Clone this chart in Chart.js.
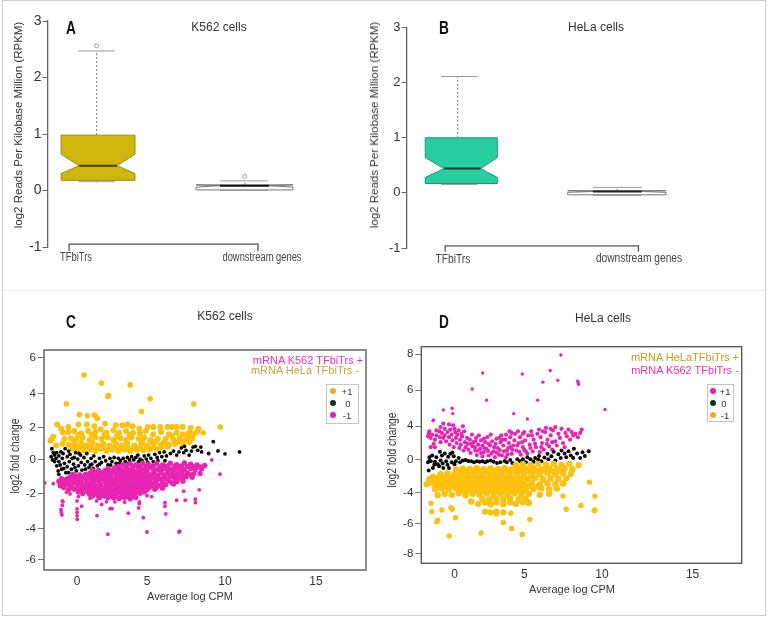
<!DOCTYPE html>
<html>
<head>
<meta charset="utf-8">
<title>TFbiTrs panels</title>
<script src="https://cdn.jsdelivr.net/npm/chart.js@4"></script>
<style>
  html, body { margin: 0; padding: 0; background: #fff; }
  body { position: relative; width: 768px; height: 617px; overflow: hidden; font-family: "Liberation Sans", Arial, sans-serif; color: #333; }
  canvas { position: absolute; }
  #frame { position: absolute; left: 2px; top: 0; width: 762px; height: 614px; border: 1.5px solid #cfcfcf; }
  #divider { position: absolute; left: 3px; top: 290px; width: 761px; height: 1px; background: #ececec; }
  .t { position: absolute; white-space: nowrap; transform: translate(-50%, -50%); }
  .title { font-size: 12px; color: #333; }
  .letter { font-weight: bold; font-size: 19px; color: #111; transform: translate(-50%, -50%) scaleX(.72); }
  .ylab { font-size: 11.5px; transform: translate(-50%, -50%) rotate(-90deg); }
  .ylab2 { font-size: 12px; transform: translate(-50%, -50%) rotate(-90deg) scaleX(.85); }
  .xlab { font-size: 11px; }
  .tick { font-size: 12px; color: #444; }
  .note { font-size: 11px; }
  .legend { position: absolute; border: 1.5px solid #c4c4c4; background: #fff; box-sizing: border-box; }
  .dot { position: absolute; border-radius: 50%; width: 6px; height: 6px; transform: translate(-50%, -50%); }
  .leg { position: absolute; font-size: 9.5px; color: #333; transform: translate(-50%, -50%); }
</style>
</head>
<body>
<div id="frame"></div>
<div id="divider"></div>

<canvas id="chartA" width="384" height="290" style="left:0;top:0"></canvas>
<canvas id="chartB" width="384" height="290" style="left:384px;top:0"></canvas>
<canvas id="chartC" width="384" height="317" style="left:0;top:300px"></canvas>
<canvas id="chartD" width="384" height="317" style="left:384px;top:300px"></canvas>

<div class="t letter" style="left:71px;top:28px">A</div>
<div class="t letter" style="left:444px;top:28px">B</div>
<div class="t letter" style="left:71px;top:322px">C</div>
<div class="t letter" style="left:444px;top:322px">D</div>

<div class="t title" style="left:219px;top:27px">K562 cells</div>
<div class="t title" style="left:596px;top:27px">HeLa cells</div>
<div class="t title" style="left:225px;top:316px">K562 cells</div>
<div class="t title" style="left:603px;top:318px">HeLa cells</div>

<div class="t ylab" style="left:18px;top:125px">log2 Reads Per Kilobase Million (RPKM)</div>
<div class="t ylab" style="left:374px;top:125px">log2 Reads Per Kilobase Million (RPKM)</div>
<div class="t ylab2" style="left:15px;top:456px">log2 fold change</div>
<div class="t ylab2" style="left:392px;top:450px">log2 fold change</div>
<div class="t xlab" style="left:190px;top:596px">Average log CPM</div>
<div class="t xlab" style="left:572px;top:589px">Average log CPM</div>

<div class="t tick" style="left:76px;top:257px;transform:translate(-50%,-50%) scaleX(.78)">TFbiTrs</div>
<div class="t tick" style="left:262px;top:257px;transform:translate(-50%,-50%) scaleX(.78)">downstream genes</div>
<div class="t tick" style="left:453px;top:259px;transform:translate(-50%,-50%) scaleX(.85)">TFbiTrs</div>
<div class="t tick" style="left:639px;top:258px;transform:translate(-50%,-50%) scaleX(.85)">downstream genes</div>

<div class="t note" style="left:308px;top:360px;color:#ee2fb8">mRNA K562 TFbiTrs +</div>
<div class="t note" style="left:305px;top:370px;color:#c9a03e">mRNA HeLa TFbiTrs -</div>
<div class="t note" style="left:685px;top:357px;color:#bfa01f">mRNA HeLaTFbiTrs +</div>
<div class="t note" style="left:685px;top:370px;color:#ee2fb8">mRNA K562 TFbiTrs -</div>

<div class="legend" style="left:326px;top:384px;width:33px;height:40px"></div>
<div class="dot" style="left:333px;top:391px;background:#e6ae20"></div>
<div class="dot" style="left:333px;top:403px;background:#12331a"></div>
<div class="dot" style="left:333px;top:415px;background:#e81fae"></div>
<div class="leg" style="left:347px;top:391px">+1</div>
<div class="leg" style="left:348px;top:403px">0</div>
<div class="leg" style="left:347px;top:415px">-1</div>

<div class="legend" style="left:707px;top:384px;width:27px;height:38px"></div>
<div class="dot" style="left:713px;top:391px;background:#e81fae"></div>
<div class="dot" style="left:713px;top:403px;background:#12331a"></div>
<div class="dot" style="left:713px;top:415px;background:#e6ae20"></div>
<div class="leg" style="left:725px;top:391px">+1</div>
<div class="leg" style="left:724px;top:403px">0</div>
<div class="leg" style="left:725px;top:415px">-1</div>

<script>
// Box plot values (first box TFbiTrs, second downstream genes)
const aQ1 = [0.18, 0.01];
const aNotchLo = [0.30, 0.06];
const aMedian = [0.44, 0.085];
const aNotchHi = [0.64, 0.10];
const aQ3 = [0.98, 0.10];
const aWhiskLo = [0.155, 0.005];
const aWhiskHi = [2.47, 0.17];
const aOutX = [1.146, 1.93];
const aOutY = [2.56, 0.25];

const bQ1 = [0.17, -0.035];
const bNotchLo = [0.28, 0.01];
const bMedian = [0.44, 0.025];
const bNotchHi = [0.64, 0.04];
const bQ3 = [1.0, 0.04];
const bWhiskLo = [0.15, -0.045];
const bWhiskHi = [2.11, 0.10];

const boxTicksY = [-1, 0, 1, 2, 3];
const xTicksCpm = [0, 5, 10, 15];
const cTicksY = [-6, -4, -2, 0, 2, 4, 6];
const dTicksY = [-8, -6, -4, 0, 4, 6, 8];

// Panel C: up, unchanged, down
const cUp = [[.5,5.05],[1.74,4.6],[3.8,4.5],[2.2,3.85],[2.25,3.9],[5.2,3.72],[-.76,3.42],[8,3.4],[4.6,2.96],[.17,2.78],[.74,2.72],[1.24,2.76],[1.35,2.65],[1.45,2.55],[2,2.25],[9.7,2.05],[8.6,1.7],
[-1.43,2.2],[-1.14,1.95],[-.62,2.05],[.1,2.2],[.7,2.2],[1.24,2.1],[2.76,2.15],[3.24,2.15],[3.6,2.2],[3.98,2.1],[4.45,1.95],[5.05,2.05],[5.4,2.05],[5.85,2.05],[6.3,2.05],[6.6,2.05],[6.9,2.05],[7.3,2.05],[7.8,2],[8.3,1.95],
[-1.8,1.3],[-1.7,1.45],[-1.9,1.2],[-1.5,.9],[-1.05,1],[-1,1.7],[-.6,1.75],[-.2,1.8],[.3,1.65],[.8,1.8],[1.3,1.75],[1.7,1.9],[2.1,1.7],[2.6,1.85],[3,1.7],[3.5,1.8],[4,1.7],[4.5,1.65],[4.9,1.8],[5.4,1.6],[5.9,1.75],[6.4,1.6],[6.9,1.7],[7.3,1.6],[7.7,1.7],[8,1.6],[8.2,1.75],
[-.9,1.3],[-.45,1.35],[-.05,1.3],[.4,1.4],[.9,1.25],[1.3,1.4],[1.75,1.3],[2.2,1.4],[2.6,1.25],[3.1,1.35],[3.5,1.25],[3.9,1.4],[4.4,1.3],[4.8,1.4],[5.2,1.25],[5.7,1.3],[6.2,1.3],[6.7,1.25],[7.1,1.35],[7.5,1.25],[7.9,1.35],
[-.6,.95],[-.15,.95],[.3,1.05],[.7,.9],[1.1,1.05],[1.5,.9],[1.9,1],[2.35,.9],[2.8,1],[3.2,.9],[3.6,1],[4.1,.9],[4.6,1],[5,.9],[5.4,1],[5.9,.95],[6.4,.95],[6.8,1],[7.3,1.05],
[-.3,.7],[0,.65],[.45,.6],[.9,.65],[1.3,.55],[1.7,.7],[2.1,.55],[2.5,.65],[2.95,.55],[3.4,.65],[3.8,.55],[4.3,.65],[4.75,.6],[5.2,.65],[5.6,.7],[6.3,.8],
[-.2,1.1],[.15,.8],[.55,.85],[1,.8],[1.4,.7],[1.85,.75],[2.3,.72],[2.7,.78],[3.15,.72],[3.6,.76],[4,.72],[4.5,.78],[5,.75],[5.45,.8],[5.9,.78],[.1,1.55],[1.05,1.55],[1.95,1.55],[2.85,1.5],[3.75,1.55],[4.65,1.1],[5.55,1.15],[6.6,1.5],[7.6,1.5],[6.1,1.1],[7,1.12],[7.7,1.1]];

const cMid = [[9.25,1.14],[9.55,.56],[10,.38],[10.8,.5],[8.95,.4],[8.5,.5],
[-1.8,.7],[-1.7,.45],[-1.85,.2],[-1.75,0],[-1.6,.3],[-1.5,.1],[-1.45,.45],[-1.3,.25],[-1.3,-.1],[-1.2,-.3],[-1.35,-.65],[-1.3,-.85],[-1.1,-.55],[-1.05,.1],[-1,.4],[-.9,-.2],[-.85,.7],[-.8,-.75],[-.7,.2],[-.7,-.4],[-.55,-.1],[-.5,.35],[-.4,-.55],[-.35,.1],[-.25,-.25],[-.1,.45],[-.05,-.65],[.05,.05],[.1,-.35],[.25,.3],[.3,-.15],[.35,-.6],[.5,.15],[.55,-.3],[.7,.4],[.75,-.1],[.85,-.45],[1,.1],[1.05,-.25],[1.2,.25],[1.3,-.1],[1.45,-.35],
[1.6,.1],[1.75,-.15],[1.9,.2],[2.05,-.05],[2.2,-.3],[2.35,.1],[2.5,-.1],[2.65,.15],[2.8,-.2],[2.95,.1],[3.1,-.05],[3.3,.1],[3.45,-.1],[3.6,.15],[3.75,0],[3.9,.2],[4.05,0],[4.2,.15],[4.35,.3],[4.5,.05],[4.65,-.05],[4.8,.25],[4.95,.05],[5.1,.3],[5.25,.1],[5.4,-.1],[5.5,.35],[5.65,.15],[5.8,.45],[5.95,.2],[6.1,.5],[6.25,.25],[6.15,-.05],
[6.5,.4],[6.7,.55],[6.9,.3],[7.05,.5],[7.2,.75],[7.35,.45],[7.5,.6],[7.7,.3],[7.85,.55],[7.95,.8],[8.1,.85],[8.25,.6],[8.45,.8],[7.4,.85],
[-1.6,-.1],[-1.45,-.35],[-1.15,.5],[-.95,-.5],[-.6,.55],[-.6,-.75],[-.2,.15],[-.15,-.45],[.15,.4],[.6,-.55],[.95,-.3],[1.15,-.5],[1.6,-.25],[2.4,-.3],[3,-.2],[3.7,-.2],[4.4,-.1],[5.05,-.15],[5.7,-.05]];

const cDown = [[-2.3,-1.35],[-1.7,-1.4],[1.43,-3.24],[2.2,-4.34],[5,-4.2],[7.05,-4.2],[7.1,-4.15],[9.68,-.84],[9.15,0],[4.74,-3.36],[3.67,-3.1],[4.4,-2.8],[6.2,-3.14],[6.15,-2.7],[6.15,-2.5],[6.9,-2.36],[7.45,-2.36],[8.1,-2.5],[8.1,-2.3],[8.35,-1.76],[7.35,-1.84],[2.36,-2.84],[2.5,-2.84],
[-1.05,-2.4],[-1,-2.45],[-1.05,-2.65],[-1.15,-2.9],[-1.12,-3.05],[-1.08,-3.2],[0,-2.85],[0,-3.05],[0,-3.25],[.02,-3.45],[.33,-2.7],[0,-2.4],[.1,-2.15],[-.75,-1.9],[-.5,-2],[.93,-2.25],[1.4,-2.4],[1.76,-2.6],[2.1,-2.45],[2.7,-2.45],[3.4,-2.47],[4.45,-2.45],[4.45,-2.55],[5.3,-2.15],[5,-2.1],
[3.3,-.28],[3.8,-.22],[4.2,-.3],[4.7,-.2],[5.1,-.27],[5.6,-.2],[6,-.3],[6.5,-.2],[6.9,-.28],[7.4,-.18],[7.8,-.25],[8.2,-.3],[8.7,-.33],
[2.2,-.52],[2.7,-.46],[3.1,-.55],[3.5,-.48],[3.9,-.54],[4.4,-.47],[4.8,-.52],[5.2,-.46],[5.7,-.55],[6.1,-.5],[6.5,-.54],[7,-.48],[7.4,-.56],[7.8,-.5],[8.1,-.56],[8.5,-.52],
[.9,-.78],[1.3,-.72],[1.8,-.76],[2.2,-.8],[2.6,-.72],[3,-.78],[3.4,-.73],[3.8,-.79],[4.2,-.74],[4.6,-.78],[5,-.72],[5.4,-.8],[5.9,-.75],[6.3,-.79],[6.7,-.74],[7.1,-.8],[7.6,-.76],[8,-.82],[8.4,-.8],
[-.5,-1.02],[-.1,-.96],[.4,-1.03],[.8,-.97],[1.2,-1.02],[1.6,-.98],[2,-1.04],[2.4,-.96],[2.9,-1.02],[3.3,-.98],[3.7,-1.03],[4.1,-.97],[4.5,-1.02],[4.9,-.98],[5.3,-1.04],[5.7,-.97],[6.1,-1.03],[6.6,-.98],[7,-1.04],[7.5,-1],[7.9,-1.02],
[-1.3,-1.26],[-.9,-1.2],[-.5,-1.27],[-.1,-1.22],[.3,-1.28],[.7,-1.21],[1.1,-1.27],[1.5,-1.23],[2,-1.28],[2.4,-1.21],[2.8,-1.26],[3.2,-1.22],[3.6,-1.28],[4,-1.21],[4.4,-1.26],[4.8,-1.22],[5.2,-1.28],[5.6,-1.22],[6,-1.27],[6.4,-1.23],[6.9,-1.28],[7.3,-1.25],
[-1.2,-1.52],[-.8,-1.46],[-.4,-1.53],[.1,-1.47],[.5,-1.52],[.9,-1.46],[1.3,-1.53],[1.7,-1.47],[2.1,-1.52],[2.5,-1.46],[2.9,-1.53],[3.3,-1.47],[3.7,-1.52],[4.1,-1.46],[4.5,-1.53],[4.9,-1.48],[5.3,-1.52],[5.8,-1.5],[6.2,-1.46],[6.7,-1.42],
[-.6,-1.76],[-.2,-1.72],[.2,-1.78],[.6,-1.73],[1,-1.77],[1.4,-1.71],[1.8,-1.78],[2.2,-1.73],[2.6,-1.77],[3,-1.72],[3.4,-1.78],[3.8,-1.73],[4.2,-1.76],[4.6,-1.72],[5,-1.76],[5.5,-1.72],[6,-1.66],
[.4,-1.98],[.9,-2.02],[1.3,-1.97],[1.7,-2.03],[2.1,-1.97],[2.5,-2.02],[2.9,-1.96],[3.3,-2.03],[3.7,-1.98],[4.1,-2.02],[4.5,-1.96],
[2.6,-2.22],[3,-2.27],[3.4,-2.22],[3.8,-2.28],[2.2,-2.2],[1.6,-2.2],[4.2,-2.2],
[2.95,-.38],[3.55,-.36],[4,-.4],[4.5,-.35],[4.95,-.38],[5.4,-.36],[5.85,-.4],[6.3,-.36],[6.75,-.4],[7.2,-.36],[7.6,-.38],[8,-.4],[8.4,-.42],
[1.1,-.62],[1.55,-.62],[2,-.64],[2.45,-.6],[2.85,-.62],[3.25,-.64],[3.65,-.62],[4.05,-.64],[4.5,-.62],[4.95,-.64],[5.45,-.63],[5.9,-.64],[6.35,-.65],[6.8,-.64],[7.2,-.66],
[-.3,-.86],[.2,-.88],[.6,-.86],[1.05,-.88],[1.5,-.86],[2,-.9],[2.4,-.88],[2.8,-.88],[3.2,-.87],[3.6,-.89],[4,-.88],[4.4,-.9],[4.8,-.87],[5.2,-.9],[5.6,-.88],[6.1,-.88],[6.5,-.88],[6.9,-.9],[7.35,-.88],[7.8,-.88],
[-1.1,-1.1],[-.7,-1.1],[-.3,-1.12],[.1,-1.1],[.55,-1.13],[1,-1.12],[1.4,-1.1],[1.8,-1.12],[2.2,-1.1],[2.6,-1.12],[3.05,-1.1],[3.5,-1.13],[3.9,-1.1],[4.3,-1.13],[4.7,-1.1],[5.1,-1.13],[5.5,-1.1],[5.9,-1.13],[6.3,-1.12],[6.8,-1.12],[7.25,-1.12],
[-1,-1.36],[-.6,-1.37],[-.2,-1.35],[.2,-1.37],[.7,-1.36],[1.2,-1.37],[1.6,-1.35],[2.2,-1.37],[2.65,-1.35],[3.1,-1.37],[3.5,-1.36],[3.95,-1.37],[4.3,-1.38],[4.7,-1.37],[5.1,-1.38],[5.5,-1.37],[6,-1.38],[6.6,-1.35],
[-.95,-1.62],[-.5,-1.64],[0,-1.62],[.4,-1.64],[.75,-1.62],[1.15,-1.64],[1.55,-1.62],[2,-1.64],[2.35,-1.62],[2.75,-1.64],[3.15,-1.62],[3.55,-1.64],[3.95,-1.62],[4.3,-1.64],[4.75,-1.62],[5.15,-1.62],[5.65,-1.6],
[.1,-1.88],[.45,-1.87],[.8,-1.88],[1.15,-1.87],[1.55,-1.9],[1.95,-1.88],[2.35,-1.88],[2.75,-1.87],[3.15,-1.9],[3.55,-1.88],[3.95,-1.87],[4.4,-1.88],[4.8,-1.88],
[1.1,-2.12],[1.5,-2.1],[1.95,-2.12],[2.4,-2.12],[2.8,-2.12],[3.2,-2.14],[3.6,-2.12],[4,-2.13]];

// Panel D: up, unchanged, down
const dUp = [[7.36,7.96],[2.02,6.96],[4.86,6.9],[6.67,7.1],[6.2,6.45],[7.16,6.55],[8.44,6.5],[8.5,6.33],[8.48,6.4],[1.27,6.07],[2.3,5.45],[5.86,5.45],[10.17,4.93],[-.8,4.9],[-.17,5],[-.12,4.7],[4.25,4.7],[5.2,4.4],[-1.5,4.35],[-1.55,4.3],
[-1.9,2.8],[-1.85,3.1],[-1.8,3.4],[-1.7,2.6],[-1.7,1.5],[-1.6,3],[-1.5,1.9],[-1.4,2.4],[-1.4,1.5],[-1.3,2.9],[-1.3,3.5],[-1.1,3.4],[-1.05,2.7],[-1,3.9],[-1,2.1],[-.9,3.2],[-.8,2.6],[-.8,4.15],[-.7,3.7],[-.7,2.9],[-.6,2.2],[-.5,3.3],[-.4,4.1],[-.4,2.7],[-.35,1.8],[-.3,3.6],[-.2,3],[-.15,2.3],[-.1,4.05],[-.05,1.5],[0,3.7],[.05,3.3],[.1,2.6],[.15,2],[.2,3],[.3,3.5],[.35,1.4],[.4,2.4],[.45,1.8],[.5,3.1],[.55,2.8],[.6,4],[.65,1.1],[.7,3.4],[.75,2.1],[.8,1.5],[.9,2.6],[.95,1.9],[1,1.2],
[1.1,2.4],[1.15,.8],[1.25,3],[1.3,1.6],[1.35,2.1],[1.5,1.1],[1.55,2.6],[1.6,.55],[1.7,1.8],[1.75,2.9],[1.85,1.3],[1.9,2.3],[2,.4],[2,1.7],[2.1,.9],[2.2,2.1],[2.3,1.3],[2.35,2.7],[2.45,.5],[2.55,1.7],[2.6,3],[2.7,2.2],[2.8,1],[2.9,.3],[2.95,1.9],[3,2.5],[3.1,1.4],[3.2,.6],[3.3,2.1],[3.35,2.9],[3.5,1.7],[3.55,1],[3.65,2.4],[3.7,.3],[3.85,1.4],[3.9,2],[3.95,3.4],[4,2.7],[4.1,.7],[4.2,1.7],[4.3,2.3],[4.35,3.1],[4.45,1.1],[4.55,3.4],[4.6,2],[4.7,2.7],[4.75,.6],[4.9,1.5],[5,3.3],[5.05,2.3],[5.1,1],[5.25,2.9],[5.35,1.8],[5.45,3.4],[5.55,1],[5.6,2.4],[5.75,1.5],[5.85,3.1],[5.95,3.6],[6,.9],[6.05,2.7],[6.15,2],[6.25,1.2],[6.35,3.3],[6.4,3.8],[6.5,2.4],[6.6,1.6],[6.7,2.9],[6.8,1.2],[6.85,3.5],[7,3.9],[7,2.2],[7.1,1.7],[7.2,3.1],[7.3,2.6],[7.4,3.7],[7.5,2],[7.6,1.5],[7.65,3.2],[7.75,2.8],[7.85,3.6],[7.95,2.4],[8.05,3.3],[8.15,2.9],[8.3,3.1],[8.45,2.7],[8.6,3.2],[8.7,3.6],
[1.2,1.9],[1.45,1.5],[1.65,1.1],[1.9,.8],[2.15,1.4],[2.4,1.05],[2.45,1.9],[2.65,.75],[2.85,1.5],[3,.85],[3.25,1.15],[3.4,.5],[3.45,2.4],[3.75,1.1],[3.8,.65],[4,1.5],[4.15,1.2],[4.5,1.7],[4.65,.95],[4.85,2.1],[5,1.2],[5.2,.75],[5.4,1.4],[5.7,1.9],[6.1,1.5],[6.45,1.9],[6.8,2.1],[1.5,2.2],[2.1,2.5],[3.2,2.6],[3.7,3],[4.1,3.2],[4.9,3.1],[5.5,2.9],[6.2,3.4],[6.7,3.7]];

const dMid = [[-1.9,-.3],[-1.85,-1.3],[-1.8,-.15],[-1.8,.3],[-1.7,-.2],[-1.6,.5],[-1.55,-1],[-1.45,-.6],[-1.4,-.25],[-1.3,.3],[-1.2,-.55],[-1.1,-.8],[-1.05,.95],[-1,-.1],[-.9,.5],[-.85,-.45],[-.8,-1],[-.7,.75],[-.6,-.2],[-.5,-.6],[-.45,.35],[-.4,-1],[-.3,.7],[-.2,-.3],[-.15,.85],[-.05,.4],[0,-.55],[.1,-.2],[.3,.2],[.4,-.3],[.6,-.1],[.8,-.05],[1,-.15],[1.2,-.2],[1.4,-.3],[1.6,-.2],[1.8,-.25],[2,-.2],[2.2,-.3],[2.35,-.2],[2.6,-.1],[2.8,-.25],[3.05,-.4],[3.3,-.3],[3.6,-.15],[3.75,-.3],[4,-.05],[4.15,-.4],[4.5,.05],[4.7,-.2],[4.9,.05],[5.1,-.3],[5.2,.3],[5.4,.05],[5.6,-.25],[5.7,.2],[5.9,0],[5.95,.45],[6.1,-.2],[6.3,.25],[6.5,.7],[6.55,.05],[6.75,.4],[6.9,.95],[7,-.1],[7.2,.65],[7.35,.2],[7.4,1.1],[7.6,.75],[7.7,.3],[7.85,1],[8,.5],[8.15,.2],[8.2,1.3],[8.4,.75],[8.6,.2],[8.75,.9],[8.9,.45],[9.15,1]];

const dDown = [[-1.68,-4.67],[-1.63,-5.2],[-.9,-5.1],[-.26,-4.95],[-.15,-5.05],[-1.2,-5.75],[-1.27,-5.85],[.07,-5.6],[-.38,-6.8],[1.9,-6.6],[3,-5.35],[3.5,-5.9],[4.04,-5.3],[4.1,-6.3],[4.85,-6.7],[5.36,-5.7],[7.7,-5.05],[8.65,-4.8],[9.5,-5.15],[9.55,-5.1],[9.55,-4.2],[9.2,-2.7],[7.5,-4.2],
[4.4,-.65],[4.9,-.55],[5.4,-.62],[5.9,-.5],[6.4,-.6],[6.9,-.5],[7.4,-.62],[7.9,-.5],[8.5,-.65],
[.1,-1.15],[.6,-1.05],[1.1,-1.12],[1.6,-1.02],[2.1,-1.15],[2.6,-1.05],[3.1,-1.12],[3.6,-1.02],[4.1,-1.15],[4.6,-1.05],[5.1,-1.12],[5.6,-1.05],[6.1,-1.15],[6.6,-1.05],[7.1,-1.12],[7.6,-1.05],[8.1,-1.15],
[-1,-1.75],[-.5,-1.65],[0,-1.72],[.5,-1.62],[1,-1.75],[1.5,-1.65],[2,-1.72],[2.5,-1.62],[3,-1.75],[3.5,-1.65],[4,-1.72],[4.5,-1.62],[5,-1.75],[5.5,-1.65],[6,-1.72],[6.5,-1.62],[7,-1.75],[7.5,-1.65],[8,-1.72],
[-1.8,-2.35],[-1.3,-2.25],[-.8,-2.32],[-.3,-2.22],[.2,-2.35],[.7,-2.25],[1.2,-2.32],[1.7,-2.22],[2.2,-2.35],[2.7,-2.25],[3.2,-2.32],[3.7,-2.22],[4.2,-2.35],[4.7,-2.25],[5.2,-2.32],[5.7,-2.22],[6.2,-2.35],[6.7,-2.25],[7.2,-2.32],[7.7,-2.25],
[-2,-2.95],[-1.5,-2.85],[-1,-2.92],[-.5,-2.82],[0,-2.95],[.5,-2.85],[1,-2.92],[1.5,-2.82],[2,-2.95],[2.5,-2.85],[3,-2.92],[3.5,-2.82],[4,-2.95],[4.5,-2.85],[5,-2.92],[5.5,-2.82],[6,-2.95],[6.5,-2.85],[7,-2.92],[7.5,-2.85],
[-1.4,-3.55],[-.9,-3.45],[-.4,-3.52],[.1,-3.42],[.6,-3.55],[1.1,-3.45],[1.6,-3.52],[2.1,-3.42],[2.6,-3.55],[3.1,-3.45],[3.6,-3.52],[4.1,-3.42],[4.6,-3.55],[5.1,-3.45],[5.6,-3.52],[6.1,-3.42],[6.6,-3.55],[7.1,-3.45],
[-1.2,-4.15],[-.7,-4.05],[-.2,-4.12],[.3,-4.02],[.8,-4.15],[1.3,-4.05],[1.8,-4.12],[2.3,-4.02],[2.8,-4.15],[3.3,-4.05],[3.8,-4.12],[4.3,-4.02],[4.8,-4.15],[5.3,-4.05],[6,-4.12],[6.6,-4.05],
[1.2,-4.55],[1.7,-4.7],[2.2,-4.62],[2.6,-4.75],[3,-4.6],[3.5,-4.72],[4,-4.6],[4.4,-4.7],[4.9,-4.6],[5.3,-4.65],[2.2,-5.2],[2.6,-5.25],[3,-5.2],[3.5,-5.25],
[.35,-1.4],[.85,-1.45],[1.35,-1.38],[1.85,-1.42],[2.35,-1.38],[2.85,-1.42],[3.35,-1.4],[3.85,-1.36],[4.35,-1.4],[4.85,-1.35],[5.35,-1.35],[5.85,-1.38],[6.35,-1.35],[6.85,-1.4],[7.35,-1.35],
[-1.55,-2.05],[-1.05,-2.05],[-.55,-2],[-.05,-2.05],[.45,-2],[.95,-2.05],[1.45,-2],[1.95,-2.05],[2.45,-2],[2.95,-2.05],[3.45,-2],[3.95,-2.05],[4.45,-2],[4.95,-2.05],[5.45,-2],
[-1.75,-2.65],[-1.25,-2.6],[-.75,-2.65],[-.25,-2.6],[.25,-2.65],[.75,-2.6],[1.25,-2.65],[1.75,-2.6],[2.25,-2.65],[2.75,-2.6],[3.25,-2.65],[3.75,-2.6],[4.25,-2.65],[4.75,-2.6],
[-1.15,-3.2],[-.65,-3.2],[-.15,-3.15],[.35,-3.2],[.85,-3.15],[1.35,-3.2],[1.85,-3.15],[2.35,-3.2],[2.85,-3.15],[3.35,-3.2],[3.85,-3.15],[4.35,-3.2],[4.85,-3.2],[5.35,-3.15],[5.85,-3.2],
[.4,-3.78],[.9,-3.82],[1.4,-3.78],[1.9,-3.82],[2.4,-3.78],[2.9,-3.82],[3.4,-3.78],[3.9,-3.82],[4.4,-3.78],[4.9,-3.82],
[2,-4.4],[2.5,-4.42],[3,-4.38],[3.5,-4.42],[4,-4.35],[4.6,-4.4],[5.1,-4.38]];

// figure's unevenly spaced tick marks: value -> spacing along the axis
const warpTables = {
  cpm: { from: xTicksCpm, to: [0, 70, 148, 239] },
  cFold: { from: cTicksY, to: [-560, -529, -494, -460, -428, -394, -358] },
  dFold: { from: dTicksY, to: [-554, -524, -493, -459.7, -426.3, -390.3, -354.3] }
};

class WarpedScale extends Chart.LinearScale {
  warp(v) {
    const { from, to } = warpTables[this.options.warpKey];
    let i = 0;
    while (i < from.length - 2 && v > from[i + 1]) i++;
    return to[i] + (v - from[i]) * (to[i + 1] - to[i]) / (from[i + 1] - from[i]);
  }
  getPixelForValue(v) {
    const lo = this.warp(this.min);
    const hi = this.warp(this.max);
    return this.getPixelForDecimal((this.warp(v) - lo) / (hi - lo));
  }
}
WarpedScale.id = 'warped';
WarpedScale.defaults = {};
Chart.register(WarpedScale);

const FONT = '"Liberation Sans", Arial, sans-serif';
const pts = list => list.map(p => ({ x: p[0], y: p[1] }));

// notched boxes, whiskers and the bracket under them
function notchPlugin(stats, geom, bracket) {
  return {
    id: 'notchBoxes',
    afterDatasetsDraw(chart) {
      const { ctx, scales: { x, y } } = chart;
      ctx.save();
      geom.forEach((g, i) => {
        const X = v => x.getPixelForValue(v);
        const Y = v => y.getPixelForValue(v);
        // whiskers
        ctx.strokeStyle = '#777';
        ctx.lineWidth = 1;
        ctx.setLineDash([2, 2]);
        ctx.beginPath();
        ctx.moveTo(X(g.center), Y(stats.q3[i]));
        ctx.lineTo(X(g.center), Y(stats.whiskHi[i]));
        ctx.moveTo(X(g.center), Y(stats.q1[i]));
        ctx.lineTo(X(g.center), Y(stats.whiskLo[i]));
        ctx.stroke();
        ctx.setLineDash([]);
        ctx.strokeStyle = '#999';
        ctx.beginPath();
        ctx.moveTo(X(g.capL), Y(stats.whiskHi[i]));
        ctx.lineTo(X(g.capR), Y(stats.whiskHi[i]));
        ctx.moveTo(X(g.capL), Y(stats.whiskLo[i]));
        ctx.lineTo(X(g.capR), Y(stats.whiskLo[i]));
        ctx.stroke();
        // box
        ctx.beginPath();
        ctx.moveTo(X(g.left), Y(stats.q3[i]));
        ctx.lineTo(X(g.right), Y(stats.q3[i]));
        ctx.lineTo(X(g.right), Y(stats.notchHi[i]));
        ctx.lineTo(X(g.notchR), Y(stats.median[i]));
        ctx.lineTo(X(g.right), Y(stats.notchLo[i]));
        ctx.lineTo(X(g.right), Y(stats.q1[i]));
        ctx.lineTo(X(g.left), Y(stats.q1[i]));
        ctx.lineTo(X(g.left), Y(stats.notchLo[i]));
        ctx.lineTo(X(g.notchL), Y(stats.median[i]));
        ctx.lineTo(X(g.left), Y(stats.notchHi[i]));
        ctx.closePath();
        ctx.fillStyle = g.fill;
        ctx.fill();
        ctx.strokeStyle = g.edge;
        ctx.lineWidth = 1;
        ctx.stroke();
        // median
        ctx.strokeStyle = g.medianColor;
        ctx.lineWidth = 2;
        ctx.beginPath();
        ctx.moveTo(X(g.notchL), Y(stats.median[i]));
        ctx.lineTo(X(g.notchR), Y(stats.median[i]));
        ctx.stroke();
      });
      // bracket axis
      const by = y.getPixelForValue(bracket.value);
      ctx.strokeStyle = '#555';
      ctx.lineWidth = 1.3;
      ctx.beginPath();
      ctx.moveTo(x.getPixelForValue(1), by + bracket.drop);
      ctx.lineTo(x.getPixelForValue(1), by);
      ctx.lineTo(x.getPixelForValue(2), by);
      ctx.lineTo(x.getPixelForValue(2), by + bracket.drop);
      ctx.stroke();
      ctx.restore();
    }
  };
}

const framePlugin = {
  id: 'plotFrame',
  beforeDatasetsDraw(chart) {
    const { ctx, chartArea: a } = chart;
    ctx.save();
    ctx.strokeStyle = '#5a5a5a';
    ctx.lineWidth = 1.4;
    ctx.strokeRect(a.left, a.top, a.right - a.left, a.bottom - a.top);
    ctx.restore();
  }
};

function boxChart(id, stats, geom, opt) {
  new Chart(document.getElementById(id), {
    type: 'scatter',
    data: {
      datasets: [{
        data: opt.outliers,
        pointRadius: 2,
        pointBackgroundColor: 'transparent',
        pointBorderColor: '#888',
        pointBorderWidth: 0.8
      }]
    },
    options: {
      responsive: false,
      animation: false,
      events: [],
      layout: { padding: opt.padding },
      plugins: { legend: { display: false }, tooltip: { enabled: false } },
      scales: {
        x: {
          type: 'linear',
          min: opt.xMin,
          max: opt.xMax,
          afterFit: s => { s.height = opt.padBottom; },
          grid: { display: false, drawTicks: false },
          border: { display: false },
          ticks: { display: false }
        },
        y: {
          min: -1,
          max: 3,
          afterFit: s => { s.width = opt.padLeft; },
          afterBuildTicks: s => { s.ticks = boxTicksY.map(v => ({ value: v })); },
          grid: { display: true, drawOnChartArea: false, drawTicks: true, tickLength: 5, tickColor: '#666' },
          border: { display: true, color: '#666', width: 1.3 },
          ticks: { padding: 1, color: '#333', font: { family: FONT, size: opt.tickSize }, callback: v => String(v) }
        }
      }
    },
    plugins: [notchPlugin(stats, geom, opt.bracket)]
  });
}

function maChart(id, sets, opt) {
  new Chart(document.getElementById(id), {
    type: 'scatter',
    data: {
      datasets: sets.map((s, i) => ({
        label: s.label,
        data: pts(s.values),
        // the stray points come first in each list, the dense cloud after them
        pointRadius: c => (c.dataIndex < s.stray ? s.strayRadius : s.radius),
        pointBackgroundColor: s.color,
        pointBorderWidth: 0,
        order: sets.length - i
      }))
    },
    options: {
      responsive: false,
      animation: false,
      events: [],
      layout: { padding: opt.padding },
      plugins: { legend: { display: false }, tooltip: { enabled: false } },
      scales: {
        x: {
          type: 'warped',
          warpKey: 'cpm',
          min: opt.xMin,
          max: opt.xMax,
          afterFit: s => { s.height = opt.padBottom; },
          afterBuildTicks: s => { s.ticks = xTicksCpm.map(v => ({ value: v })); },
          grid: { display: false, drawTicks: false },
          border: { display: false },
          ticks: { autoSkip: false, maxRotation: 0, padding: opt.labelPad, color: '#333', font: { family: FONT, size: 12 }, callback: v => String(v) }
        },
        y: {
          type: 'warped',
          warpKey: opt.warpY,
          min: opt.yMin,
          max: opt.yMax,
          afterFit: s => { s.width = opt.padLeft; },
          afterBuildTicks: s => { s.ticks = opt.ticksY.map(v => ({ value: v })); },
          grid: { display: true, drawOnChartArea: false, drawTicks: true, tickLength: 6, tickColor: '#777' },
          border: { display: false },
          ticks: { autoSkip: false, padding: 2, color: '#333', font: { family: FONT, size: 11.5 }, callback: v => String(v) }
        }
      }
    },
    plugins: [framePlugin]
  });
}

boxChart('chartA',
  { q1: aQ1, notchLo: aNotchLo, median: aMedian, notchHi: aNotchHi, q3: aQ3, whiskLo: aWhiskLo, whiskHi: aWhiskHi },
  [
    { left: 0.958, right: 1.349, notchL: 1.053, notchR: 1.254, capL: 1.048, capR: 1.243, center: 1.146, fill: '#cfb70b', edge: '#9c8c18', medianColor: '#4a3a00' },
    { left: 1.672, right: 2.185, notchL: 1.799, notchR: 2.058, capL: 1.799, capR: 2.053, center: 1.931, fill: '#ffffff', edge: '#777777', medianColor: '#111111' }
  ],
  {
    padding: { top: 21, right: 54 }, padLeft: 47.5, padBottom: 43, xMin: 0.886, xMax: 2.381, tickSize: 14,
    bracket: { value: -0.95, drop: 7 },
    outliers: aOutX.map((x, i) => ({ x: x, y: aOutY[i] }))
  });

boxChart('chartB',
  { q1: bQ1, notchLo: bNotchLo, median: bMedian, notchHi: bNotchHi, q3: bQ3, whiskLo: bWhiskLo, whiskHi: bWhiskHi },
  [
    { left: 0.897, right: 1.27, notchL: 0.994, notchR: 1.183, capL: 0.979, capR: 1.168, center: 1.065, fill: '#27cfa0', edge: '#2a9478', medianColor: '#16382e' },
    { left: 1.634, right: 2.143, notchL: 1.765, notchR: 2.017, capL: 1.765, capR: 2.017, center: 1.89, fill: '#ffffff', edge: '#777777', medianColor: '#222222' }
  ],
  {
    padding: { top: 27.5, right: 60 }, padLeft: 22.5, padBottom: 42, xMin: 0.8, xMax: 2.36, tickSize: 13,
    bracket: { value: -0.96, drop: 6 }, outliers: []
  });

maChart('chartC',
  [
    { label: '+1', values: cUp, stray: 17, strayRadius: 2.8, radius: 3, color: '#fbc10e' },
    { label: '0', values: cMid, stray: 6, strayRadius: 1.9, radius: 1.9, color: '#0a0a0a' },
    { label: '-1', values: cDown, stray: 48, strayRadius: 1.9, radius: 2.7, color: '#e825b0' }
  ],
  {
    padding: { top: 50, right: 18 }, padLeft: 44, padBottom: 47, labelPad: 4,
    xMin: -2.36, xMax: 17.75, yMin: -6.65, yMax: 6.44, warpY: 'cFold', ticksY: cTicksY
  });

maChart('chartD',
  [
    { label: '+1', values: dUp, stray: 20, strayRadius: 1.7, radius: 2.1, color: '#e825b0' },
    { label: '0', values: dMid, stray: 0, strayRadius: 2, radius: 2, color: '#0a0a0a' },
    { label: '-1', values: dDown, stray: 23, strayRadius: 2.7, radius: 3.2, color: '#fbc10e' }
  ],
  {
    padding: { top: 46.7, right: 26.3 }, padLeft: 37.3, padBottom: 53.7, labelPad: 4,
    xMin: -2.38, xMax: 17.71, yMin: -8.62, yMax: 8.42, warpY: 'dFold', ticksY: dTicksY
  });
</script>
</body>
</html>
